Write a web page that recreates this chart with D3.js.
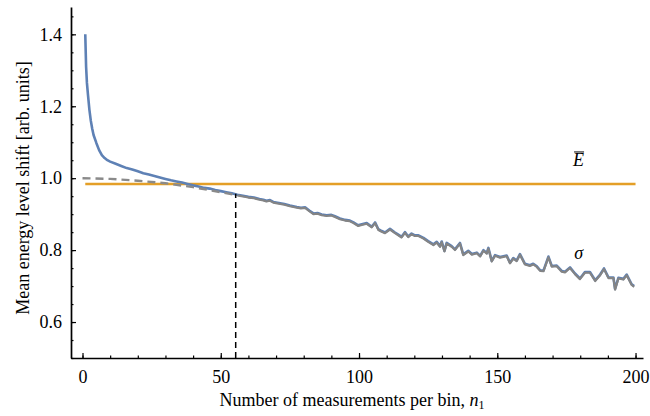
<!DOCTYPE html>
<html>
<head>
<meta charset="utf-8">
<script src="https://cdn.jsdelivr.net/npm/d3@7"></script>
<style>
  body { margin: 0; background: #fff; }
</style>
</head>
<body>
<svg id="chart" width="650" height="416"></svg>
<script>
// sigma(n1)
var sigmaN = [1,1.3,1.6,2,2.5,3,3.5,4,5,6,7,8,9,10,12,14,16,18,20,22,24,26,28,30,32,34,36,38,40,42,44,46,48,50,52,54,56,58,60,62,64,65.4,66.5,67.8,69,71,73,75,77.5,79,80.5,82,83.5,85,86.5,88.3,90,91.3,93.1,95,96.7,98,99.7,101,102.8,104.6,105.8,107,108.2,109.4,111.2,113,114.2,115.4,116.6,117.8,119,120.2,121.5,123.3,125,126.9,128.1,129.3,129.9,130.9,131.7,133.5,134.7,136.5,137.7,139.5,140.8,142.6,143.8,145,146.2,146.8,148,149.2,151,153.4,154.6,155.8,157,158.2,160,161.8,163,164.3,165.5,166.7,168.5,169.7,171.5,173.3,174.5,176.3,178.1,179.9,181.7,183.5,185.4,187.2,188.6,190.2,192,192.6,193.8,195.6,196.8,198.6,199.5];
var sigmaV = [1.40,1.31,1.265,1.23,1.19,1.16,1.138,1.12,1.098,1.078,1.064,1.056,1.05,1.046,1.04,1.034,1.028,1.024,1.019,1.014,1.01,1.006,1.002,0.998,0.994,0.991,0.988,0.984,0.98,0.977,0.973,0.971,0.967,0.964,0.961,0.958,0.954,0.951,0.948,0.946,0.942,0.94,0.937,0.939,0.934,0.931,0.928,0.924,0.92,0.918,0.919,0.91,0.902,0.903,0.899,0.897,0.898,0.894,0.888,0.884,0.882,0.877,0.869,0.872,0.875,0.865,0.877,0.858,0.853,0.849,0.859,0.849,0.843,0.837,0.85,0.838,0.846,0.841,0.841,0.834,0.825,0.816,0.823,0.811,0.824,0.798,0.82,0.811,0.802,0.82,0.788,0.798,0.789,0.793,0.784,0.8,0.792,0.806,0.77,0.786,0.781,0.785,0.765,0.778,0.771,0.789,0.762,0.758,0.762,0.755,0.744,0.743,0.782,0.756,0.757,0.742,0.74,0.752,0.735,0.721,0.739,0.739,0.716,0.732,0.749,0.724,0.724,0.692,0.723,0.72,0.732,0.705,0.70];

// dashed fit curve
var fitN = [0,10,20,30,40,50,55.5];
var fitV = [1.0,0.998,0.993,0.986,0.975,0.961,0.953];

// mean energy E-bar
var ebarN = [1,200];
var ebarV = [0.984,0.984];

// chosen n1
var cutN = 55.4;
var cutTop = 0.957;

var xMajor = [0,50,100,150,200];
var xMinor = d3.range(0,201,10);
var yMajor = [0.6,0.8,1.0,1.2,1.4];
var yMinor = d3.range(0.5,1.46,0.05);

var serif = '"Liberation Serif", "Times New Roman", Times, "DejaVu Serif", serif';

var svg = d3.select("#chart").attr("font-family", serif);

var x = d3.scaleLinear().domain([-4.16, 202.7]).range([71, 643]);
var y = d3.scaleLinear().domain([0.5, 1.476]).range([358, 7]);

var sigma = sigmaN.map(function(n, i){ return [n, sigmaV[i]]; });
var fit = fitN.map(function(n, i){ return [n, fitV[i]]; });
var ebar = ebarN.map(function(n, i){ return [n, ebarV[i]]; });

var line = d3.line()
    .x(function(d){ return x(d[0]); })
    .y(function(d){ return y(d[1]); });

// axes, Mathematica style ticks pointing in
function axisStyle(g) {
  g.attr("font-family", serif);
  g.select(".domain").attr("stroke", "#000").attr("stroke-width", 1.7);
  g.selectAll(".tick line").attr("stroke", "#000").attr("stroke-width", 1.2);
  g.selectAll(".tick text").attr("font-size", 18).attr("fill", "#000");
}

svg.append("g")
   .attr("transform", "translate(0,358)")
   .call(d3.axisBottom(x).tickValues(xMinor).tickSize(-2.5).tickSizeOuter(0).tickFormat(""))
   .call(axisStyle);
svg.append("g")
   .attr("transform", "translate(0,358)")
   .call(d3.axisBottom(x).tickValues(xMajor).tickSizeInner(-5).tickSizeOuter(0).tickPadding(12).tickFormat(d3.format("d")))
   .call(axisStyle)
   .call(function(g){ g.select(".domain").remove(); });

svg.append("g")
   .attr("transform", "translate(71,0)")
   .call(d3.axisLeft(y).tickValues(yMinor).tickSize(-2.5).tickSizeOuter(0).tickFormat(""))
   .call(axisStyle);
svg.append("g")
   .attr("transform", "translate(71,0)")
   .call(d3.axisLeft(y).tickValues(yMajor).tickSizeInner(-5).tickSizeOuter(0).tickPadding(9).tickFormat(d3.format(".1f")))
   .call(axisStyle)
   .call(function(g){ g.select(".domain").remove(); });

// curves
svg.append("path")
   .datum(ebar)
   .attr("d", line)
   .attr("fill", "none")
   .attr("stroke", "#E49F27")
   .attr("stroke-width", 2.4);

svg.append("path")
   .datum(sigma)
   .attr("d", line)
   .attr("fill", "none")
   .attr("stroke", "#5E81B5")
   .attr("stroke-width", 2.6)
   .attr("stroke-linejoin", "round");

svg.append("path")
   .datum(fit)
   .attr("d", line)
   .attr("fill", "none")
   .attr("stroke", "#8A8A8A")
   .attr("stroke-width", 2.4)
   .attr("stroke-dasharray", "8,5");

svg.append("path")
   .datum(sigma.filter(function(d){ return d[0] >= 55; }))
   .attr("d", line)
   .attr("transform", "translate(0,0.7)")
   .attr("fill", "none")
   .attr("stroke", "#848484")
   .attr("stroke-width", 2.1)
   .attr("stroke-linejoin", "round");

svg.append("line")
   .attr("x1", x(cutN)).attr("x2", x(cutN))
   .attr("y1", y(0.5)).attr("y2", y(cutTop))
   .attr("stroke", "#000")
   .attr("stroke-width", 1.5)
   .attr("stroke-dasharray", "6,4");

// curve labels
var eLabel = svg.append("text")
   .attr("x", x(179.4)).attr("y", y(1.034))
   .attr("text-anchor", "middle")
   .attr("font-size", 18)
   .attr("font-style", "italic")
   .text("E");
var bb = eLabel.node().getBBox();
svg.append("line")
   .attr("x1", bb.x + 2).attr("x2", bb.x + bb.width)
   .attr("y1", bb.y + 2).attr("y2", bb.y + 2)
   .attr("stroke", "#000").attr("stroke-width", 1);

svg.append("text")
   .attr("x", x(179.4)).attr("y", y(0.775))
   .attr("text-anchor", "middle")
   .attr("font-size", 18)
   .attr("font-style", "italic")
   .text("σ");

// axis titles
var xt = svg.append("text")
   .attr("x", 352).attr("y", 406)
   .attr("text-anchor", "middle")
   .attr("font-size", 18)
   .text("Number of measurements per bin, ");
xt.append("tspan").attr("font-style", "italic").text("n");
xt.append("tspan").attr("font-size", 12).attr("dy", 3).text("1");

svg.append("text")
   .attr("transform", "translate(29,188) rotate(-90)")
   .attr("text-anchor", "middle")
   .attr("font-size", 18)
   .text("Mean energy level shift [arb. units]");
</script>
</body>
</html>
